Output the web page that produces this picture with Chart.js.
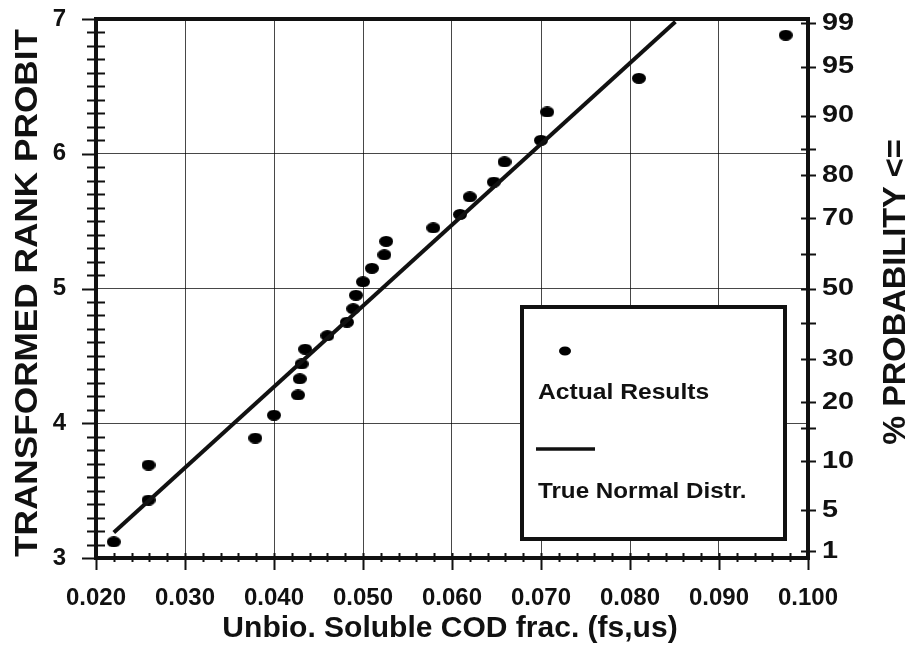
<!DOCTYPE html>
<html>
<head>
<meta charset="utf-8">
<title>Unbio. Soluble COD frac. probit plot</title>
<script src="https://cdn.jsdelivr.net/npm/chart.js@4.4.1/dist/chart.umd.min.js"></script>
<style>
  html, body { margin: 0; padding: 0; background: #fff; }
  canvas { display: block; }
</style>
</head>
<body>
<canvas id="probit" width="909" height="650"></canvas>
<script>
// measured fs,us fractions and their transformed rank probits
const fsus = [0.0220, 0.0259, 0.0259, 0.0379, 0.0400, 0.0427, 0.0429, 0.0431, 0.0435,
  0.0460, 0.0482, 0.0489, 0.0492, 0.0500, 0.0510, 0.0524, 0.0526, 0.0579, 0.0609,
  0.0620, 0.0647, 0.0659, 0.0700, 0.0707, 0.0810, 0.0975];
const rankProbit = [3.12, 3.43, 3.69, 3.89, 4.06, 4.21, 4.33, 4.44, 4.55,
  4.65, 4.75, 4.85, 4.95, 5.05, 5.15, 5.25, 5.35, 5.45, 5.55,
  5.68, 5.79, 5.94, 6.10, 6.31, 6.56, 6.88];

// true normal distribution, drawn as a straight line between its end points
const normalX = [0.0220, 0.0851];
const normalProbit = [3.19, 6.98];

// right hand % probability scale (probit position of each tick)
const probTicks = [3.05, 3.355, 3.718, 3.964, 4.158, 4.476, 4.747, 5.0, 5.253, 5.524, 5.842, 6.036, 6.282, 6.645, 6.97];
const probLabels = ['1', '5', '10', '', '20', '30', '', '50', '', '70', '80', '', '90', '95', '99'];

const FONT = '"Liberation Sans", Arial, sans-serif';

// solid elliptical marker
function ellipseMarker(w, h) {
  const c = document.createElement('canvas');
  c.width = w; c.height = h;
  const g = c.getContext('2d');
  g.fillStyle = '#000';
  g.beginPath();
  g.ellipse(w / 2, h / 2, w / 2, h / 2, 0, 0, Math.PI * 2);
  g.fill();
  return c;
}

function drawText(ctx, text, x, y, size, angle, stretch, align, baseline) {
  ctx.save();
  ctx.translate(x, y);
  ctx.rotate(angle);
  ctx.scale(stretch, 1);
  ctx.font = `bold ${size}px ${FONT}`;
  ctx.fillStyle = '#111';
  ctx.textAlign = align || 'center';
  ctx.textBaseline = baseline || 'alphabetic';
  ctx.fillText(text, 0, 0);
  ctx.restore();
}

// keep the plot box where it belongs, no room reserved for label overhang
function fixSize(prop, size) {
  return s => {
    s[prop] = size;
    s.paddingTop = 0; s.paddingBottom = 0;
    s.paddingLeft = 0; s.paddingRight = 0;
  };
}

const frame = {
  id: 'frame',
  afterDraw(chart) {
    const { ctx, chartArea: a, scales } = chart;
    const x = scales.x, y = scales.y, yP = scales.yP;
    ctx.save();
    ctx.strokeStyle = '#111';
    ctx.lineWidth = 2;
    ctx.beginPath();
    // x ticks, minor every 0.002
    for (let i = 0; i <= 40; i++) {
      const px = Math.round(x.getPixelForValue(0.02 + i * 0.002)) + 0.5;
      const major = i % 5 === 0;
      ctx.moveTo(px, a.bottom - 5);
      ctx.lineTo(px, a.bottom + (major ? 12 : 4));
    }
    // left probit ticks, minor every 0.1
    for (let i = 0; i <= 40; i++) {
      const py = Math.round(y.getPixelForValue(3 + i * 0.1)) + 0.5;
      const major = i % 10 === 0;
      ctx.moveTo(a.left - (major ? 14 : 9), py);
      ctx.lineTo(a.left + (major ? 0 : 9), py);
    }
    // right probability ticks
    probTicks.forEach(v => {
      const py = Math.round(yP.getPixelForValue(v)) + 0.5;
      ctx.moveTo(a.right - 7, py);
      ctx.lineTo(a.right + 8, py);
    });
    ctx.stroke();
    probTicks.forEach((v, i) => {
      if (probLabels[i]) drawText(ctx, probLabels[i], a.right + 14, yP.getPixelForValue(v), 24, 0, 1.2, 'left', 'middle');
    });

    // heavy plot border
    ctx.lineWidth = 4;
    ctx.strokeRect(a.left, a.top, a.right - a.left, a.bottom - a.top);

    // legend box
    ctx.fillStyle = '#fff';
    ctx.fillRect(522, 307, 263, 232);
    ctx.strokeRect(522, 307, 263, 232);
    ctx.fillStyle = '#000';
    ctx.beginPath();
    ctx.ellipse(565, 351, 6, 4.5, 0, 0, Math.PI * 2);
    ctx.fill();
    drawText(ctx, 'Actual Results', 538, 399, 22, 0, 1.12, 'left');
    ctx.lineWidth = 3.5;
    ctx.beginPath();
    ctx.moveTo(536, 449);
    ctx.lineTo(595, 449);
    ctx.stroke();
    drawText(ctx, 'True Normal Distr.', 538, 498, 22, 0, 1.1, 'left');

    // axis titles
    drawText(ctx, 'TRANSFORMED RANK PROBIT', 37, 293, 32, -Math.PI / 2, 1.1);
    drawText(ctx, 'Unbio. Soluble COD frac. (fs,us)', 450, 637, 29, 0, 1.035);
    drawText(ctx, '% PROBABILITY <=', 905, 292, 31, -Math.PI / 2, 1.05);
    ctx.restore();
  }
};

const tickFont = { family: FONT, size: 24, weight: 'bold' };
const gridColor = 'rgba(0,0,0,0.72)';

new Chart(document.getElementById('probit'), {
  type: 'scatter',
  data: {
    datasets: [
      {
        type: 'line',
        label: 'True Normal Distr.',
        data: normalX.map((v, i) => ({ x: v, y: normalProbit[i] })),
        borderColor: '#111',
        borderWidth: 4,
        pointRadius: 0,
        fill: false
      },
      {
        label: 'Actual Results',
        data: fsus.map((v, i) => ({ x: v, y: rankProbit[i] })),
        pointStyle: ellipseMarker(14, 11),
        pointRadius: 7,
        backgroundColor: '#000'
      }
    ]
  },
  options: {
    responsive: false,
    devicePixelRatio: 1,
    animation: false,
    layout: { padding: { top: 19, left: 0, right: 0, bottom: 0 } },
    plugins: { legend: { display: false }, tooltip: { enabled: false } },
    scales: {
      x: {
        type: 'linear',
        min: 0.02,
        max: 0.1,
        afterFit: fixSize('height', 92),
        ticks: {
          stepSize: 0.01,
          padding: 26,
          color: '#111',
          font: tickFont,
          callback: v => v.toFixed(3)
        },
        grid: { color: gridColor, lineWidth: 1, drawTicks: false },
        border: { display: false }
      },
      y: {
        type: 'linear',
        position: 'left',
        min: 3,
        max: 7,
        afterFit: fixSize('width', 96),
        ticks: { stepSize: 1, padding: 30, color: '#111', font: tickFont },
        grid: { color: gridColor, lineWidth: 1, drawTicks: false },
        border: { display: false }
      },
      yP: {
        type: 'linear',
        position: 'right',
        min: 3,
        max: 7,
        afterFit: fixSize('width', 101),
        afterBuildTicks: s => { s.ticks = probTicks.map(v => ({ value: v })); },
        ticks: { display: false },
        grid: { display: false, drawTicks: false },
        border: { display: false }
      }
    }
  },
  plugins: [frame]
});
</script>
</body>
</html>
